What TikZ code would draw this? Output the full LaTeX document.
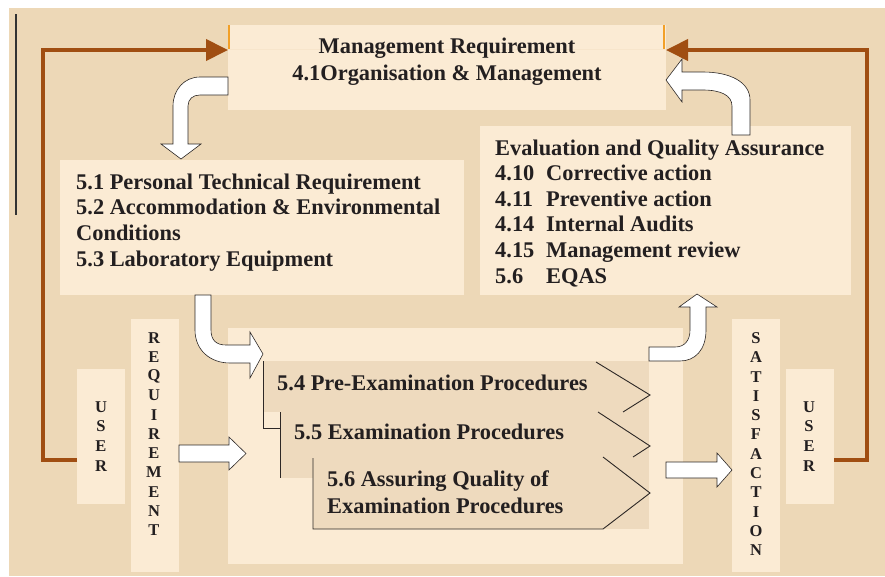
\documentclass[tikz,border=0pt]{standalone}
\usepackage{fontspec}
\setmainfont{Liberation Serif}
\usetikzlibrary{arrows.meta,calc}
\definecolor{bgtan}{RGB}{237,216,183}
\definecolor{boxfill}{RGB}{251,235,212}
\definecolor{rowfill}{RGB}{238,218,190}
\definecolor{brownline}{RGB}{160,78,18}
\definecolor{tickor}{RGB}{242,160,40}
\definecolor{outl}{RGB}{45,40,38}
\definecolor{inkc}{RGB}{35,31,32}
\begin{document}
\begin{tikzpicture}[x=1pt,y=-1pt,
  box/.style={fill=boxfill, draw=none, inner sep=0pt, outer sep=0pt, anchor=north west},
  txt/.style={font=\fontsize{22.4}{25.7}\selectfont\bfseries, text=inkc, inner sep=0pt, anchor=base west},
  ctxt/.style={txt, anchor=base},
  vtxt/.style={font=\fontsize{16.5}{19.3}\selectfont\bfseries, text=inkc, inner sep=0pt},
  blockarrow/.style={fill=white, draw=outl, line width=0.6pt, line join=miter},
  brownconn/.style={draw=brownline, line width=4pt, line join=miter},
  rowline/.style={draw=outl, line width=0.9pt},
]
\useasboundingbox (0,0) rectangle (885,576);
\fill[white] (0,0) rectangle (885,576);
\fill[bgtan] (9,8) rectangle (885,576);
\draw[black!80, line width=1.2pt] (16,14) -- (16,215);

% boxes
\node[box, minimum width=438pt, minimum height=85pt] (mgmt) at (228,25) {};
\node[box, minimum width=404pt, minimum height=135pt] (res) at (60,160) {};
\node[box, minimum width=371pt, minimum height=169pt] (eval) at (480,126) {};
\node[box, minimum width=455pt, minimum height=236pt] (proc) at (228,328) {};
\node[box, minimum width=48pt, minimum height=135pt] (userL) at (77,369) {};
\node[box, minimum width=48pt, minimum height=253pt] (req) at (131,319) {};
\node[box, minimum width=48pt, minimum height=253pt] (sat) at (732,319) {};
\node[box, minimum width=48pt, minimum height=135pt] (userR) at (786,369) {};

\draw[boxfill!70!bgtan, line width=0.6pt] (228,49) -- (666,49);
\draw[tickor, line width=1.5pt] (229,25) -- (229,49);
\draw[tickor, line width=1.5pt] (664,25) -- (664,49);

% process rows
\fill[rowfill] (263,361) rectangle (649,412);
\fill[rowfill] (280,412) rectangle (649,478);
\fill[rowfill] (313,457) rectangle (649,529);
\draw[rowline] (263,361) -- (263,428) -- (280,428);
\draw[rowline] (280,412) -- (280,478);
\draw[rowline] (313,458) -- (313,529) -- (603,529) -- (650,493) -- (603,457);
\draw[rowline] (596,362) -- (650,395) -- (623,412);
\draw[rowline] (598,412) -- (650,446) -- (633,457);

% texts
\node[ctxt] (m1) at (447,53) {Management Requirement};
\node[ctxt] (m2) at (447,80) {4.1Organisation \& Management};

\node[txt] (r1) at (76,189) {5.1 Personal Technical Requirement};
\node[txt] (r2) at (76,214.5) {5.2 Accommodation \& Environmental};
\node[txt] (r3) at (76,240) {Conditions};
\node[txt] (r4) at (76,266) {5.3 Laboratory Equipment};

\node[txt] (e0) at (495,155) {Evaluation and Quality Assurance};
\node[txt] (e1a) at (495,180.5) {4.10};
\node[txt] (e1b) at (546,180.5) {Corrective action};
\node[txt] (e2a) at (495,206) {4.11};
\node[txt] (e2b) at (546,206) {Preventive action};
\node[txt] (e3a) at (495,231.5) {4.14};
\node[txt] (e3b) at (546,231.5) {Internal Audits};
\node[txt] (e4a) at (495,257) {4.15};
\node[txt] (e4b) at (546,257) {Management review};
\node[txt] (e5a) at (495,283) {5.6};
\node[txt] (e5b) at (546,283) {EQAS};

\node[txt] (p1) at (277,390) {5.4 Pre-Examination Procedures};
\node[txt] (p2) at (294,439) {5.5 Examination Procedures};
\node[txt] (p3) at (327,486) {5.6 Assuring Quality of};
\node[txt] (p4) at (327,513) {Examination Procedures};

\foreach \l [count=\i] in {U,S,E,R} {
  \node[vtxt] (ul\i) at (101,{407+(\i-1)*19.6}) {\l};
  \node[vtxt] (ur\i) at (809,{407+(\i-1)*19.6}) {\l};
}
\foreach \l [count=\i] in {R,E,Q,U,I,R,E,M,E,N,T}
  \node[vtxt] (rq\i) at (154,{338+(\i-1)*19.2}) {\l};
\foreach \l [count=\i] in {S,A,T,I,S,F,A,C,T,I,O,N}
  \node[vtxt] (st\i) at (756,{338+(\i-1)*19.3}) {\l};

% brown connectors
\coordinate (lb) at (userL.west |- 0,460);
\coordinate (rb) at (userR.east |- 0,460);
\draw[brownconn, -{Triangle[length=22pt,width=21pt]}] (lb) -- (43,460) -- (43,50) -- (mgmt.west |- 0,50);
\draw[brownconn, -{Triangle[length=22pt,width=21pt]}] (rb) -- (867,460) -- (867,50) -- (mgmt.east |- 0,50);

% block arrows
% requirement -> process
\draw[blockarrow] (req.east |- 0,445) -- (229,445) -- (229,437) -- (246,453.5) -- (229,470) -- (229,462) -- (req.east |- 0,462) -- cycle;
% process -> satisfaction
\draw[blockarrow] (666,462) -- (717,462) -- (717,453) -- (sat.west |- 0,470) -- (717,487) -- (717,478) -- (666,478) -- cycle;
% management -> resources
\draw[blockarrow] (mgmt.west |- 0,77) -- (200,77) .. controls (184,77) and (173,90) .. (173,106) -- (173,144) -- (161,144) -- (181,159) -- (201,144) -- (188,144) -- (188,106) .. controls (188,99) and (193,95) .. (200,95) -- (mgmt.west |- 0,95) -- cycle;
% evaluation -> management
\draw[blockarrow] (750,135) -- (750,100) .. controls (750,82) and (730,72) .. (703,72) -- (682,72) -- (682,59) -- (mgmt.east |- 0,80) -- (682,102) -- (682,90) -- (703,90) .. controls (720,90) and (732,95) .. (732,106) -- (732,135) -- cycle;
% resources -> process
\draw[blockarrow] (195,295) -- (195,330) .. controls (195,350) and (210,363) .. (230,363) -- (250,363) -- (250,378) -- (263,354) -- (250,332) -- (250,345) -- (226,345) .. controls (216,345) and (211,340) .. (211,330) -- (211,295) -- cycle;
% process -> evaluation
\draw[blockarrow] (649,347) -- (675,347) .. controls (685,347) and (690,340) .. (690,330) -- (690,307) -- (679,307) -- (697,294) -- (717,307) -- (706,307) -- (706,330) .. controls (706,350) and (695,361) .. (680,361) -- (649,361) -- cycle;
\end{tikzpicture}
\end{document}
